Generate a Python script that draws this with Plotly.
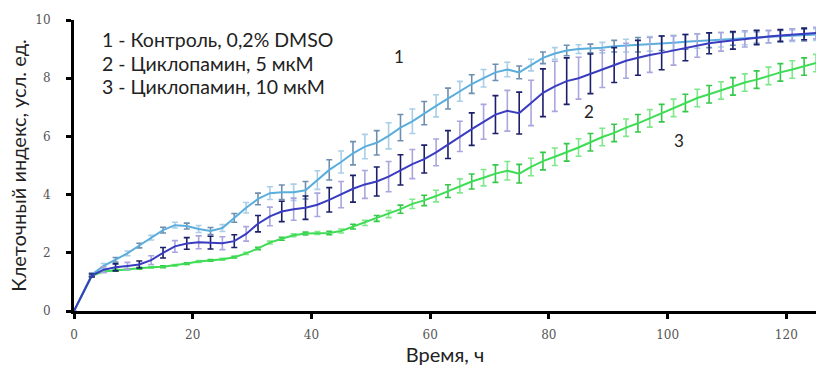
import plotly.graph_objects as go

# Time, h
time_h = [0, 3, 5, 7, 9, 11, 13, 15, 17, 19, 21, 23, 25, 27, 29, 31, 33, 35, 37, 39,
          41, 43, 45, 47, 49, 51, 53, 55, 57, 59, 61, 63, 65, 67, 69, 71, 73, 75, 77, 79,
          81, 83, 85, 87, 89, 91, 93, 95, 97, 99, 101, 103, 105, 107, 109, 111, 113, 115,
          117, 119, 121, 123, 125]

# 1 - Control, 0.2% DMSO
ctrl = [0, 1.25, 1.55, 1.76, 1.98, 2.25, 2.52, 2.78, 2.95, 2.92, 2.82, 2.75, 2.85, 3.2,
        3.55, 3.85, 4.05, 4.08, 4.08, 4.15, 4.5, 4.85, 5.12, 5.42, 5.65, 5.78, 6.02, 6.3,
        6.52, 6.8, 7.05, 7.3, 7.55, 7.8, 8.0, 8.2, 8.3, 8.2, 8.45, 8.7, 8.85, 8.95, 9.0,
        9.02, 9.05, 9.1, 9.12, 9.15, 9.18, 9.2, 9.22, 9.25, 9.28, 9.3, 9.32, 9.35, 9.37,
        9.4, 9.42, 9.44, 9.46, 9.48, 9.5]
ctrl_err = [0, 0.05, 0.08, 0.08, 0.08, 0.08, 0.08, 0.1, 0.1, 0.1, 0.12, 0.12, 0.12, 0.15,
            0.18, 0.2, 0.22, 0.25, 0.28, 0.3, 0.32, 0.35, 0.38, 0.4, 0.42, 0.42, 0.45, 0.45,
            0.42, 0.4, 0.38, 0.36, 0.34, 0.32, 0.3, 0.28, 0.25, 0.22, 0.2, 0.2, 0.2, 0.18,
            0.15, 0.15, 0.18, 0.2, 0.22, 0.25, 0.25, 0.25, 0.25, 0.25, 0.25, 0.25, 0.25,
            0.22, 0.22, 0.2, 0.2, 0.2, 0.2, 0.2, 0.2]

# 2 - Cyclopamine, 5 uM
cyc5 = [0, 1.22, 1.42, 1.5, 1.55, 1.6, 1.75, 2.0, 2.22, 2.32, 2.36, 2.35, 2.33, 2.4,
        2.65, 3.0, 3.25, 3.42, 3.5, 3.55, 3.65, 3.82, 4.0, 4.2, 4.35, 4.45, 4.62, 4.85,
        5.05, 5.22, 5.45, 5.72, 6.0, 6.25, 6.5, 6.75, 6.88, 6.8, 7.15, 7.5, 7.72, 7.9,
        8.0, 8.15, 8.32, 8.45, 8.6, 8.7, 8.8, 8.87, 8.95, 9.05, 9.12, 9.2, 9.25, 9.3,
        9.35, 9.4, 9.43, 9.47, 9.5, 9.52, 9.55]
cyc5_err = [0, 0.05, 0.1, 0.12, 0.12, 0.12, 0.15, 0.18, 0.2, 0.2, 0.22, 0.22, 0.22, 0.22,
            0.25, 0.28, 0.32, 0.35, 0.38, 0.4, 0.4, 0.42, 0.45, 0.46, 0.48, 0.5, 0.52,
            0.52, 0.5, 0.48, 0.46, 0.48, 0.52, 0.56, 0.6, 0.65, 0.7, 0.72, 0.78, 0.82,
            0.86, 0.8, 0.72, 0.68, 0.64, 0.6, 0.6, 0.6, 0.6, 0.58, 0.5, 0.45, 0.4, 0.36,
            0.32, 0.3, 0.28, 0.25, 0.22, 0.2, 0.2, 0.2, 0.2]

# 3 - Cyclopamine, 10 uM
cyc10 = [0, 1.2, 1.36, 1.4, 1.43, 1.47, 1.5, 1.52, 1.57, 1.63, 1.7, 1.74, 1.78, 1.85,
         1.98, 2.15, 2.35, 2.48, 2.6, 2.66, 2.68, 2.68, 2.75, 2.9, 3.03, 3.18, 3.33, 3.5,
         3.68, 3.8, 3.95, 4.12, 4.3, 4.45, 4.58, 4.72, 4.82, 4.72, 4.95, 5.15, 5.3, 5.45,
         5.62, 5.8, 5.98, 6.12, 6.3, 6.45, 6.62, 6.8, 6.98, 7.15, 7.32, 7.45, 7.58, 7.72,
         7.85, 7.95, 8.08, 8.2, 8.3, 8.4, 8.52]
cyc10_err = [0, 0.02, 0.03, 0.03, 0.03, 0.03, 0.03, 0.03, 0.03, 0.03, 0.03, 0.03, 0.03,
             0.03, 0.04, 0.04, 0.05, 0.05, 0.05, 0.05, 0.05, 0.06, 0.07, 0.08, 0.09, 0.1,
             0.12, 0.14, 0.16, 0.18, 0.2, 0.22, 0.24, 0.26, 0.28, 0.3, 0.32, 0.32, 0.3,
             0.3, 0.3, 0.3, 0.3, 0.3, 0.3, 0.3, 0.3, 0.3, 0.3, 0.3, 0.3, 0.3, 0.3, 0.3,
             0.3, 0.3, 0.3, 0.3, 0.3, 0.3, 0.3, 0.3, 0.3]

legend_lines = ["1 - Контроль, 0,2% DMSO", "2 - Циклопамин, 5 мкМ", "3 - Циклопамин, 10 мкМ"]
curve_labels = ["1", "2", "3"]
x_ticks = [0, 20, 40, 60, 80, 100, 120]
y_ticks = [0, 2, 4, 6, 8, 10]

series = [
    (cyc10, cyc10_err, "#3fdc55", "#7fe88a", "#36c84a"),
    (ctrl, ctrl_err, "#5aaedc", "#a9cfe8", "#6f8fb0"),
    (cyc5, cyc5_err, "#3a3cc0", "#a9a6de", "#1c1f6a"),
]

fig = go.Figure()
for vals, errs, lc, ec1, ec2 in series:
    for start, ec in ((0, ec1), (1, ec2)):
        fig.add_trace(go.Scatter(
            x=time_h[start::2], y=vals[start::2], mode="markers",
            marker=dict(size=1, color="rgba(0,0,0,0)"),
            error_y=dict(type="data", array=errs[start::2], color=ec,
                         thickness=1.6, width=3),
            showlegend=False, hoverinfo="skip"))
    fig.add_trace(go.Scatter(x=time_h, y=vals, mode="lines",
                             line=dict(color=lc, width=2), showlegend=False))

FAM = "Lato, Open Sans, sans-serif"
txt_font = dict(family=FAM, size=19.5, color="#222")
for i, t in enumerate(legend_lines):
    fig.add_annotation(x=4.3, y=[9.32, 8.52, 7.7][i], text=t, showarrow=False,
                       xanchor="left", yanchor="middle", font=txt_font)
label_pos = [(54.8, 8.76), (86.7, 6.86), (101.9, 5.86)]
for (lx, ly), t in zip(label_pos, curve_labels):
    fig.add_annotation(x=lx, y=ly, text=t, showarrow=False,
                       font=dict(family=FAM, size=17, color="#222"))

tick_font = dict(family="DejaVu Serif, serif", size=12, color="#555")
title_font = dict(family=FAM, size=20, color="#222")
fig.update_layout(
    width=816, height=367,
    margin=dict(l=74, r=0, t=20, b=56),
    plot_bgcolor="white", paper_bgcolor="white",
    xaxis=dict(range=[0, 125], tickvals=x_ticks, showgrid=False, zeroline=False,
               showline=True, linecolor="black", linewidth=3,
               ticks="outside", ticklen=5, tickwidth=3, tickcolor="black",
               tickfont=tick_font, ticklabelstandoff=6,
               title=dict(text="Время, ч", font=title_font, standoff=4)),
    yaxis=dict(range=[0, 10], tickvals=y_ticks, showgrid=False, zeroline=False,
               showline=True, linecolor="black", linewidth=3,
               ticks="outside", ticklen=5, tickwidth=3, tickcolor="black",
               tickfont=tick_font, ticklabelstandoff=13,
               title=dict(text="Клеточный индекс, усл. ед.", font=title_font,
                          standoff=4)),
)

fig.write_html("out.html")
